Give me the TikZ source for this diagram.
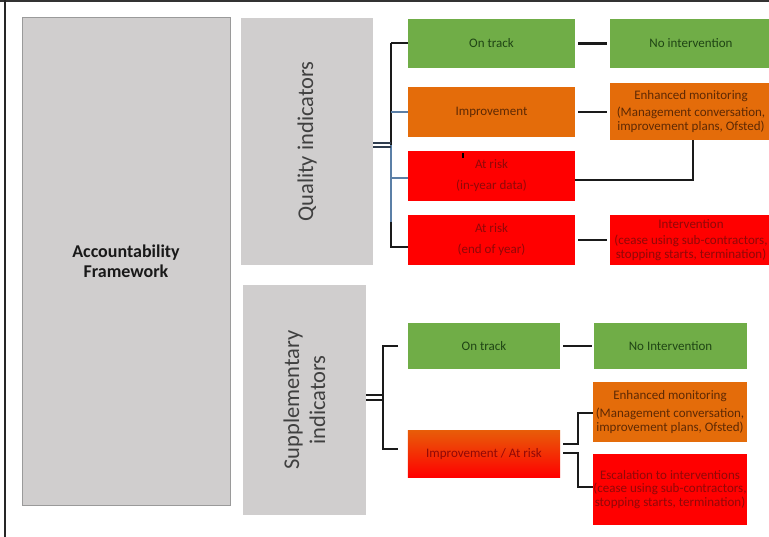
\documentclass[tikz,border=0pt]{standalone}
\usepackage{fontspec}
\setmainfont{Carlito}
\begin{document}
\begin{tikzpicture}[x=1pt,y=-1pt]
\definecolor{gfill}{HTML}{70AD47}
\definecolor{gtext}{HTML}{1F4514}
\definecolor{ofill}{HTML}{E46C0A}
\definecolor{otext}{HTML}{5E2904}
\definecolor{rfill}{HTML}{FF0000}
\definecolor{rtext}{HTML}{900808}
\definecolor{greyfill}{HTML}{D0CECE}
\definecolor{greyline}{HTML}{9A9A9A}
\definecolor{linec}{HTML}{1A1A1A}
\definecolor{bluel}{HTML}{5B7FA6}
\definecolor{eqc}{HTML}{2F3D4F}
\tikzset{
  box/.style={inner sep=0pt, anchor=center, align=center, font=\fontsize{13}{14}\selectfont},
  greenbox/.style={box, fill=gfill, text=gtext},
  orangebox/.style={box, fill=ofill, text=otext},
  redbox/.style={box, fill=rfill, text=rtext},
  panel/.style={inner sep=0pt, anchor=center, fill=greyfill, text=black!75},
  conn/.style={draw=linec, line width=2.6pt},
  thinblue/.style={draw=bluel, line width=1.1pt},
  eqline/.style={draw=eqc, line width=1.9pt}
}
\useasboundingbox (0,0) rectangle (769,537);
\fill[white] (0,0) rectangle (769,537);
\draw[draw=black!80, line width=2pt] (0,1) -- (769,1);
\draw[draw=black!85, line width=1.2pt] (5,0) -- (5,537);

% left panels
\node[panel, draw=greyline, line width=1pt, minimum width=208, minimum height=487, align=center,
  font=\bfseries\fontsize{18}{20.5}\selectfont, text=black!90] (af) at (126,261.5) {Accountability\\Framework};
\node[panel, minimum width=132, minimum height=247] (qi) at (307,141.5) {};
\node[rotate=90, font=\fontsize{22.5}{26}\selectfont, text=black!75] (qit) at (307,141.5) {Quality indicators};
\node[panel, minimum width=123, minimum height=230] (si) at (304.5,400) {};
\node[rotate=90, align=center, font=\fontsize{22.5}{26}\selectfont, text=black!75] (sit) at (304.5,400) {Supplementary\\indicators};

% quality indicator boxes
\node[greenbox, minimum width=167, minimum height=49] (q1) at (491.5,43.5) {On track};
\node[orangebox, minimum width=167, minimum height=50] (q2) at (491.5,112) {Improvement};
\node[redbox, minimum width=167, minimum height=50] (q3) at (491.5,176) {At risk\\[7pt](in-year data)};
\node[redbox, minimum width=167, minimum height=50] (q4) at (491.5,240) {At risk\\[7pt](end of year)};

\node[greenbox, minimum width=162, minimum height=49] (r1) at (691,43.5) {No intervention};
\node[orangebox, minimum width=162, minimum height=57] (r2) at (691,111.5) {Enhanced monitoring\\[3pt](Management conversation,\\improvement plans, Ofsted)};
\node[redbox, minimum width=162, minimum height=50] (r4) at (691,240) {Intervention\\[2pt](cease using sub-contractors,\\stopping starts, termination)};

% supplementary boxes
\node[greenbox, minimum width=152, minimum height=46] (s1) at (484,346) {On track};
\node[box, minimum width=152, minimum height=46] (s2) at (484,454) {};
\shade[top color=ofill!85!rfill, bottom color=rfill] (s2.north west) rectangle (s2.south east);
\node[box, text=rtext] (s2t) at (484,454) {Improvement / At risk};

\node[greenbox, minimum width=153, minimum height=46] (t1) at (670.5,346) {No Intervention};
\node[orangebox, minimum width=154, minimum height=60] (t2) at (670,412) {Enhanced monitoring\\[4pt](Management conversation,\\improvement plans, Ofsted)};
\node[redbox, minimum width=154, minimum height=71, font=\fontsize{13}{13.5}\selectfont] (t3) at (670,489.5) {Escalation to interventions\\(cease using sub-contractors,\\stopping starts, termination)};

% top bracket
\coordinate (qb1) at (391,43);
\coordinate (qb2) at (391,145);
\coordinate (qb3) at (391,222);
\coordinate (qb4) at (391,247);
\draw[conn] (qb1) -- (q1.west |- qb1);
\draw[conn] (qb1) -- (qb2);
\draw[thinblue] (qb2) -- (qb3);
\draw[conn] (qb3) -- (qb4) -- (q4.west |- qb4);
\draw[thinblue] (391,112) -- (q2.west);
\draw[thinblue] (391,178) -- (q3.west |- 0,178);
\draw[eqline] (qi.east |- 0,143) -- (391,143);
\draw[eqline] (qi.east |- 0,147) -- (391,147);
\draw[draw=black, line width=1.5pt] (463,153) -- (463,158);

% top right connectors
\draw[conn, shorten <=3pt, shorten >=3pt] (q1) -- (r1);
\draw[conn, shorten <=3pt, shorten >=3pt] (q2.east) -- (r2.west |- q2.east);
\draw[conn, shorten <=3pt, shorten >=3pt] (q4) -- (r4);
\coordinate (qc) at (693,180);
\draw[conn] (q3.east |- qc) -- (qc) -- (qc |- r2.south);

% bottom bracket
\coordinate (sb1) at (383,346);
\coordinate (sb2) at (383,449);
\draw[eqline, draw=linec] (si.east |- 0,395) -- (383,395);
\draw[eqline, draw=linec] (si.east |- 0,400) -- (383,400);
\draw[conn] (398,346) -- (sb1) -- (sb2) -- (398,449);
\draw[conn, shorten <=3pt, shorten >=2pt] (s1) -- (t1);

% bottom right connectors
\coordinate (u1) at (578,444);
\coordinate (u2) at (578,453);
\draw[conn] (563,444) -- (u1) -- (578,413) -- (t2.west |- 0,413);
\draw[conn] (563,453) -- (u2) -- (578,487) -- (t3.west |- 0,487);
\end{tikzpicture}
\end{document}
